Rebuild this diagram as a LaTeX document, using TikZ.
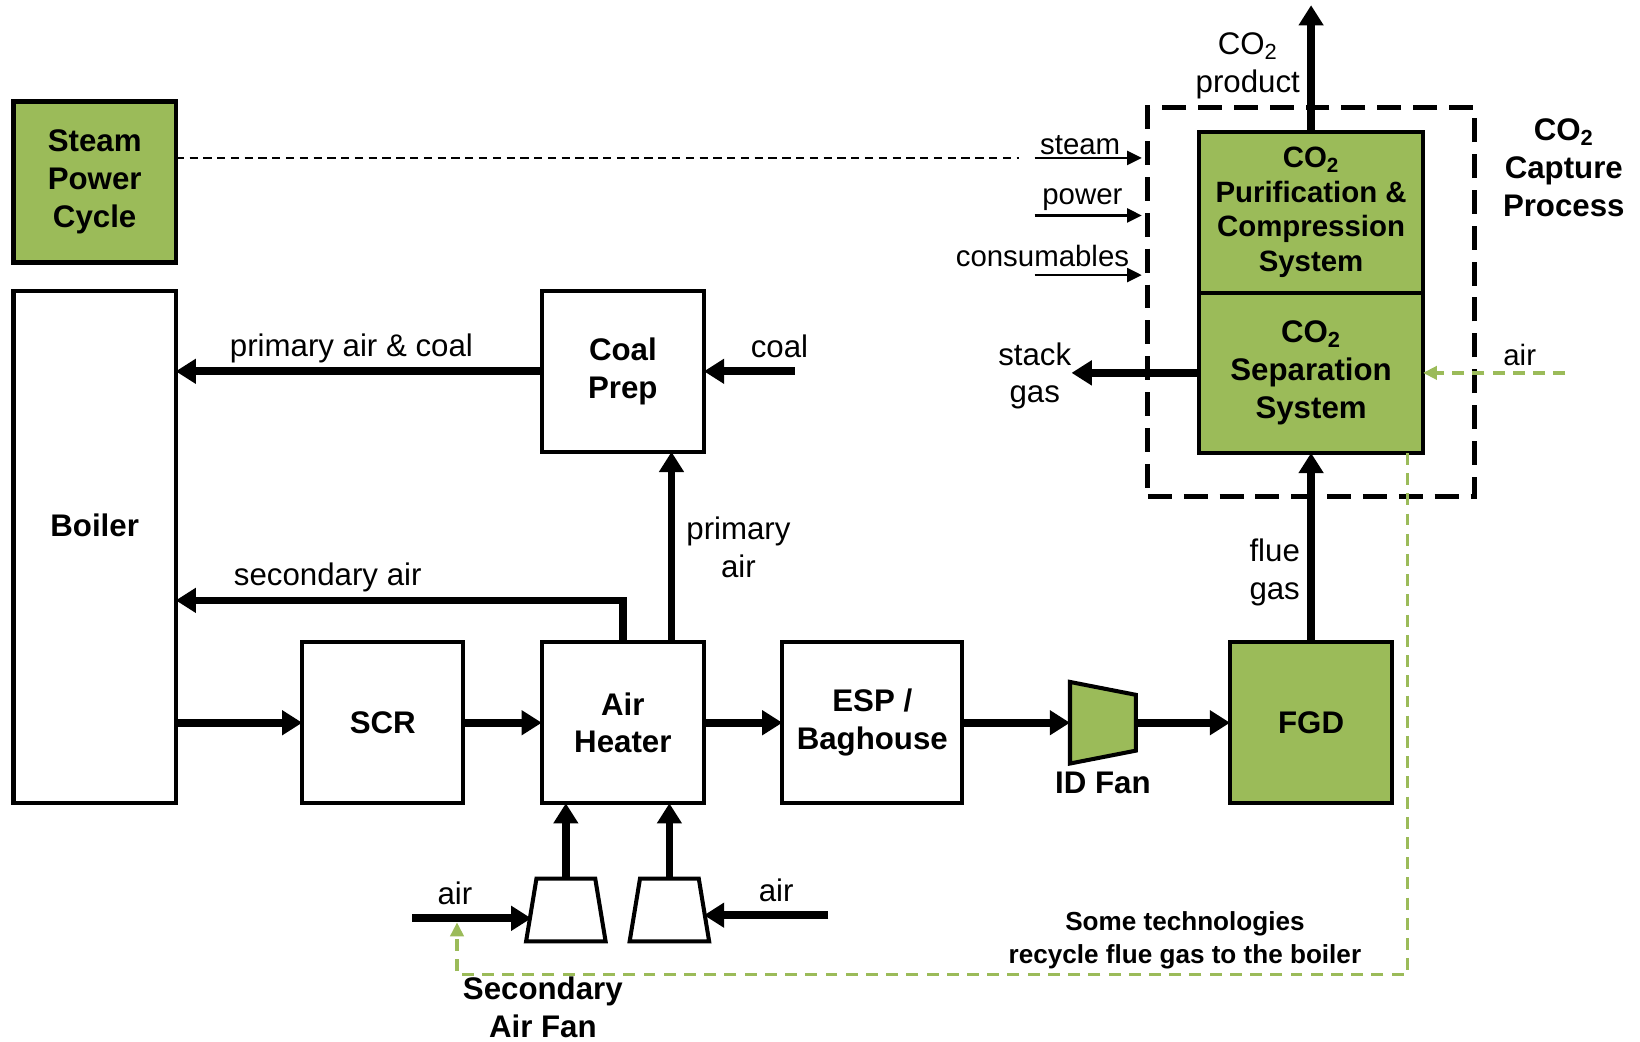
\documentclass[tikz,border=0pt]{standalone}
\usepackage{fontspec}
\setmainfont{Liberation Sans}
\usetikzlibrary{arrows.meta,positioning,shapes.geometric,calc}
\definecolor{capgreen}{HTML}{9BBB59}

\begin{document}
\begin{tikzpicture}[
    >=Stealth,
    box/.style={draw, line width=2.3pt, fill=white, outer sep=0pt, inner sep=1pt,
                minimum width=3.1cm, minimum height=3.08cm,
                align=center, font=\bfseries\fontsize{17}{20.5}\selectfont},
    greenbox/.style={box, fill=capgreen},
    fan/.style={draw, line width=2.2pt, fill=white, trapezium, trapezium angle=80,
                trapezium stretches=true, minimum width=1.52cm, minimum height=1.2cm,
                inner sep=2pt, outer sep=0pt},
    lbl/.style={align=center, inner sep=1pt, font=\fontsize{17}{20.5}\selectfont},
    bold/.style={lbl, font=\bfseries\fontsize{17}{20.5}\selectfont},
    small/.style={inner sep=1pt, font=\fontsize{16}{19}\selectfont},
    note/.style={align=center, inner sep=1pt, text=black,
                 font=\bfseries\fontsize{14.2}{17.6}\selectfont},
    arr/.style={-{Triangle[length=11pt,width=13pt]}, line width=4.2pt},
    thinarr/.style={-{Triangle[length=8pt,width=7.6pt]}, line width=1.3pt, shorten >=2pt},
    link/.style={dash pattern=on 4.5pt off 3pt, line width=0.7pt},
    recycle/.style={capgreen, dash pattern=on 6.5pt off 4.5pt, line width=1.8pt,
                    -{Triangle[length=7.6pt,width=7.2pt]}},
    capbox/.style={draw, dash pattern=on 13pt off 6.5pt, line width=2.7pt,
                   minimum width=6.24cm, minimum height=7.44cm, inner sep=0pt}
  ]
  \useasboundingbox (0,0) rectangle (31.36,-19.92);

  % main flue gas train
  \node (boiler) [box, minimum height=9.8cm, text depth=0.84cm] at (1.81,-10.46) {Boiler};
  \node (steam)  [greenbox, above=0.54cm of boiler]                          {Steam\\Power\\Cycle};
  \node (scr)    [box, minimum width=3.08cm,
                  above right=0cm and 2.42cm of boiler.south east]         {SCR};
  \node (ah)     [box, right=1.5cm of scr]                                 {Air\\Heater};
  \node (esp)    [box, minimum width=3.44cm, right=1.5cm of ah]            {ESP /\\Baghouse};
  \node (idfan)  [fan, fill=capgreen, trapezium angle=77, minimum width=1.56cm,
                  minimum height=1.26cm, shape border rotate=270,
                  right=2.06cm of esp]                                     {};
  \node (fgd)    [greenbox, right=1.8cm of idfan]                          {FGD};
  \node (sep)    [greenbox, minimum width=4.28cm, minimum height=3.06cm,
                  above=3.62cm of fgd]                                     {CO\textsubscript{2}\\Separation\\System};
  \node (pur)    [greenbox, minimum width=4.28cm, above=0cm of sep,
                  font=\bfseries\fontsize{16}{18.7}\selectfont]            {CO\textsubscript{2}\\Purification \&\\Compression\\System};
  \node (coal)   [box, above=3.64cm of ah]                                 {Coal\\Prep};
  \node (capture) [capbox] at ([yshift=1.35cm]sep.center)                  {};
  \node (captxt) [bold, below right=0.22cm and 0.46cm of capture.north east] {CO\textsubscript{2}\\Capture\\Process};

  % fans
  \node (fanl)   [fan, below=1.44cm of ah.south, xshift=-1.09cm] {};
  \node (fanr)   [fan, below=1.44cm of ah.south, xshift=0.89cm]  {};
  \node (fanlbl) [bold, below=0.64cm of fanl.south, xshift=-0.44cm] {Secondary\\Air Fan};
  \node (idlbl)  [bold, below=7pt of idfan.south] {ID Fan};
  \node (stack)  [lbl, inner sep=0pt, left=2.44cm of sep, yshift=-0.06cm] {stack\\gas};

  \coordinate (airl)    at ([xshift=-2.28cm,yshift=-0.16cm]fanl.west);
  \coordinate (airr)    at ([xshift=2.38cm,yshift=-0.1cm]fanr.east);
  \coordinate (rec)     at ([xshift=0.86cm,yshift=-1.08cm]airl);
  \coordinate (prodout) at ([yshift=2.42cm]pur.north);
  \coordinate (steamin) at ([xshift=-2.12cm,yshift=2.76cm]capture.west);
  \coordinate (powerin) at ([xshift=-2.12cm,yshift=1.66cm]capture.west);
  \coordinate (consin)  at ([xshift=-2.12cm,yshift=0.52cm]capture.west);
  \coordinate (airin)   at ([xshift=2.72cm]sep.east);

  \draw[arr] (boiler.east |- scr) -- (scr);
  \draw[arr] (scr)   -- (ah);
  \draw[arr] (ah)    -- (esp);
  \draw[arr] (esp)   -- (idfan);
  \draw[arr] (idfan) -- (fgd);
  \draw[arr] (fgd)   -- node[lbl, left=3pt, pos=0.37] {flue\\gas} (sep);
  \draw[arr] (sep.west) -- (stack.east |- sep.west);
  \draw[arr] (pur)   -- node[lbl, left=3pt, pos=0.52] {CO\textsubscript{2}\\product} (prodout);
  \draw[arr] (coal)  -- node[lbl, above=1.5pt, pos=0.52] {primary air \& coal} (coal -| boiler.east);
  \draw[arr] ([xshift=1.74cm]coal.east) -- node[lbl, above=4pt, pos=0.17] {coal} (coal);
  \draw[arr] ([xshift=0.93cm]ah.north) -- node[lbl, right=5pt] {primary\\air} ([xshift=0.93cm]coal.south);
  \draw[arr] (ah.north) |- node[lbl, above=1.5pt, pos=0.83] {secondary air} ([yshift=-1.02cm]boiler.east);
  \draw[arr] (fanl.north) -- (fanl.north |- ah.south);
  \draw[arr] (fanr.north) -- (fanr.north |- ah.south);
  \draw[arr] (airl) -- node[lbl, above=4pt, pos=0.36] {air} (airl -| fanl.west);
  \draw[arr] (airr) -- node[lbl, above=4pt, pos=0.42] {air} (airr -| fanr.east);

  % utilities into the capture process
  \draw[link] (steam.east |- steamin) -- ([xshift=-0.3cm]steamin);
  \draw[thinarr] (steamin) -- node[small, anchor=south east, pos=0.8] {steam} (steamin -| capture.west);
  \draw[thinarr] (powerin) -- node[small, anchor=south east, pos=0.82, yshift=1pt] {power} (powerin -| capture.west);
  \draw[thinarr] (consin)  -- node[small, anchor=south east, pos=0.88, yshift=3pt] {consumables} (consin -| capture.west);

  % recycle option
  \draw[recycle] (airin) -- node[small, above=2pt, pos=0.32, text=black] {air} (sep.east);
  \draw[recycle, shorten >=2.2pt] ([xshift=-0.3cm]sep.south east) |-
        node[note, above=1.5pt, pos=0.617] {Some technologies\\recycle flue gas to the boiler} (rec)
        -- (rec |- airl);
\end{tikzpicture}
\end{document}
